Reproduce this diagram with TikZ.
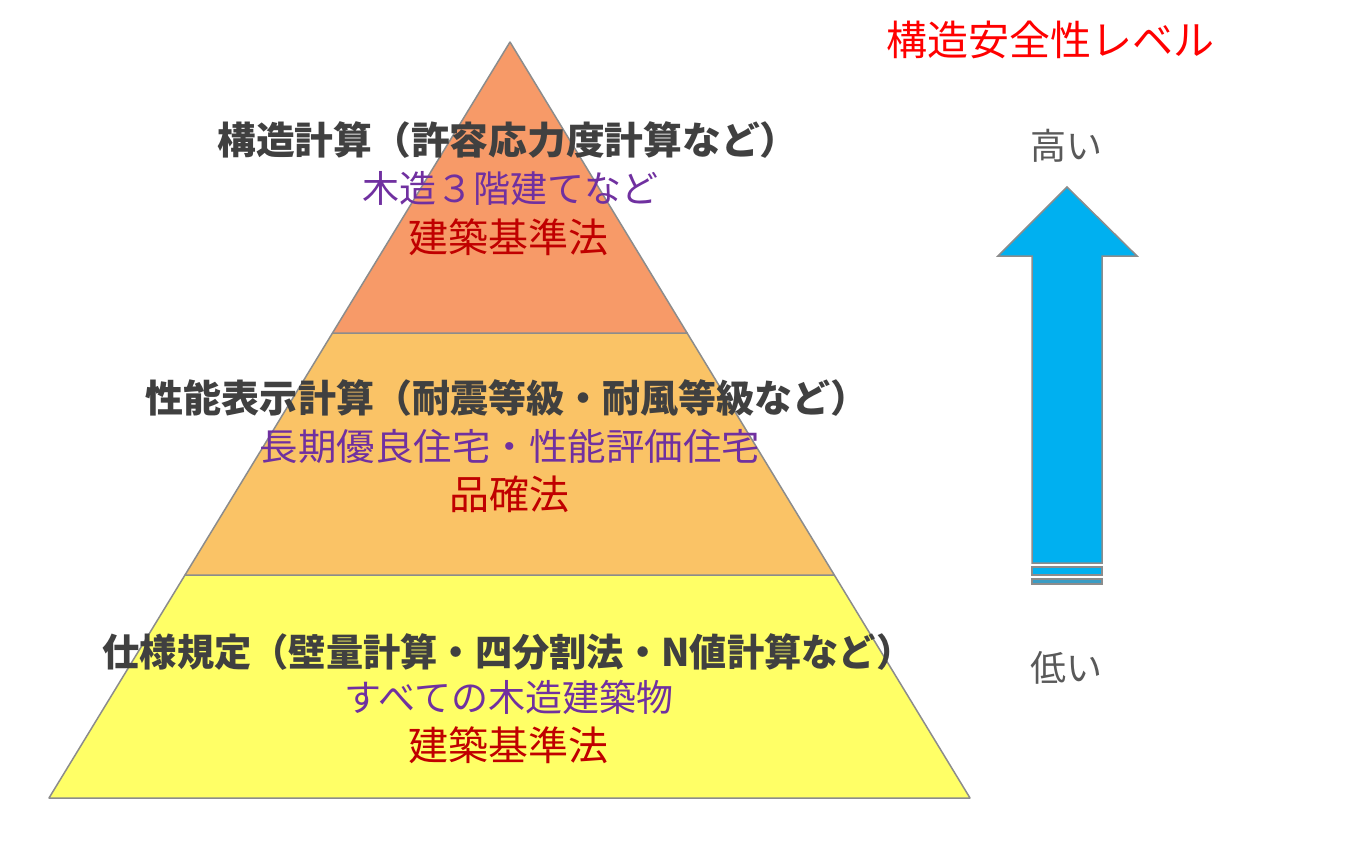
\documentclass[tikz,border=0pt]{standalone}
\usepackage{fontspec}
\newfontfamily\jp{Noto Sans CJK JP}
\definecolor{topc}{HTML}{F79A68}
\definecolor{midc}{HTML}{FAC366}
\definecolor{botc}{HTML}{FFFF66}
\definecolor{edge}{HTML}{8C8C8C}
\definecolor{darkt}{HTML}{404040}
\definecolor{purp}{HTML}{7030A0}
\definecolor{redt}{HTML}{C00000}
\definecolor{titler}{HTML}{FF0000}
\definecolor{greyt}{HTML}{595959}
\definecolor{arrc}{HTML}{00B0F0}
\definecolor{arrd}{HTML}{3A9CC4}
\tikzset{
  band/.style={draw=edge, line width=1.5bp, line join=round},
  head/.style={font=\jp\bfseries\fontsize{38bp}{42bp}\selectfont, text=darkt, inner sep=0pt},
  sub/.style={font=\jp\fontsize{37bp}{41bp}\selectfont, text=purp, inner sep=0pt},
  law/.style={font=\jp\fontsize{40bp}{44bp}\selectfont, text=redt, inner sep=0pt},
  lvl/.style={font=\jp\fontsize{36bp}{40bp}\selectfont, text=greyt, inner sep=0pt},
}
\begin{document}
\begin{tikzpicture}[x=1bp, y=-1bp]
\useasboundingbox (0,0) rectangle (1360,841);
\fill[white] (0,0) rectangle (1360,841);
% pyramid
\draw[band, fill=botc] (185,575) -- (834.3,575) -- (970,798) -- (49,798) -- cycle;
\draw[band, fill=midc] (332.5,333) -- (687.1,333) -- (834.3,575) -- (185,575) -- cycle;
\draw[band, fill=topc] (510,42) -- (687.1,333) -- (332.5,333) -- cycle;
% texts
\node[head] (h1) at (508,140) {\scalebox{1.02}[1]{構造計算（許容応力度計算など）}};
\node[sub]  (s1) at (510,188) {木造３階建てなど};
\node[law]  (l1) at (508,237) {建築基準法};
\node[head] (h2) at (507,398) {性能表示計算（耐震等級・耐風等級など）};
\node[sub]  (s2) at (510,446) {\scalebox{1.04}[1]{長期優良住宅・性能評価住宅}};
\node[law]  (l2) at (509,494) {品確法};
\node[head] (h3) at (508,652) {\scalebox{0.98}[1]{仕様規定（壁量計算・四分割法・N値計算など）}};
\node[sub]  (s3) at (509,697) {すべての木造建築物};
\node[law]  (l3) at (508,745) {建築基準法};
% level
\node[font=\jp\fontsize{41bp}{45bp}\selectfont, text=titler, inner sep=0pt] (t) at (1050,40) {構造安全性レベル};
\node[lvl] (hi) at (1066,146) {高い};
\node[lvl] (lo) at (1066,668) {低い};
\draw[draw=edge, line width=1.5bp, fill=arrc, line join=miter]
  (1067,187) -- (1137,256) -- (1102,256) -- (1102,563) -- (1032,563) -- (1032,256) -- (998,256) -- cycle;
\draw[draw=edge, line width=1.2bp, fill=arrc] (1032,567) rectangle (1102,575);
\draw[draw=edge, line width=1.2bp, fill=arrd] (1032,579) rectangle (1102,584);
\end{tikzpicture}
\end{document}
